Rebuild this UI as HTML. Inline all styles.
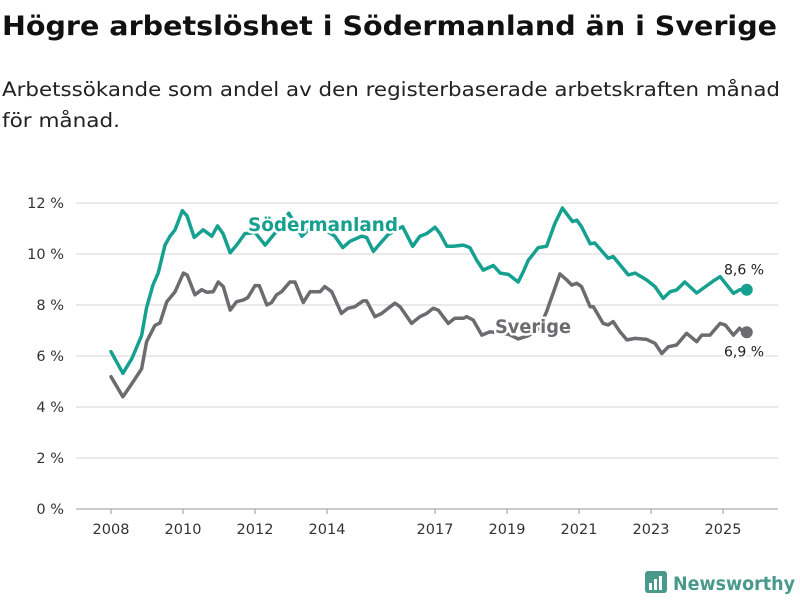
<!DOCTYPE html>
<html><head><meta charset="utf-8"><style>
body{margin:0;background:#fff;}
svg text{font-family:"DejaVu Sans","Liberation Sans",sans-serif;}
</style></head><body>
<svg id="chart" width="800" height="600" viewBox="0 0 800 600" xmlns="http://www.w3.org/2000/svg">
<text x="2" y="35" font-size="27" font-weight="bold" fill="#111" textLength="775" lengthAdjust="spacingAndGlyphs">Högre arbetslöshet i Södermanland än i Sverige</text>
<text x="2" y="96" font-size="19.5" fill="#222" textLength="778" lengthAdjust="spacingAndGlyphs">Arbetssökande som andel av den registerbaserade arbetskraften månad</text>
<text x="2" y="127" font-size="19.5" fill="#222" textLength="118" lengthAdjust="spacingAndGlyphs">för månad.</text>
<g id="grid"></g><g id="xaxis"></g><g id="series"></g><g id="labels"></g>
<g>
<rect x="645" y="571" width="22" height="22" rx="3" fill="#4a9a8c"/>
<rect x="649" y="583" width="3" height="7" fill="#fff"/><rect x="654" y="579" width="3" height="11" fill="#fff"/><rect x="659" y="576" width="3" height="14" fill="#fff"/>
<text x="673" y="590" font-size="19" font-weight="bold" fill="#4a9a8c" textLength="122" lengthAdjust="spacingAndGlyphs">Newsworthy</text>
</g>
</svg>
<script>
const yTicks=[0,2,4,6,8,10,12];
const yTickLabels=["0 %","2 %","4 %","6 %","8 %","10 %","12 %"];
const xTicks=[2008,2010,2012,2014,2017,2019,2021,2023,2025];
const sodDates=[2008.0,2008.33,2008.58,2008.85,2008.99,2009.17,2009.31,2009.5,2009.64,2009.78,2009.98,2010.11,2010.31,2010.56,2010.8,2010.96,2011.11,2011.31,2011.49,2011.72,2012.0,2012.28,2012.6,2012.94,2013.3,2013.67,2014.0,2014.22,2014.44,2014.64,2014.96,2015.1,2015.29,2015.47,2015.69,2015.92,2016.1,2016.38,2016.58,2016.77,2017.0,2017.14,2017.33,2017.51,2017.79,2017.97,2018.16,2018.34,2018.62,2018.81,2019.04,2019.31,2019.45,2019.59,2019.87,2020.1,2020.33,2020.54,2020.82,2020.94,2021.07,2021.31,2021.44,2021.81,2021.95,2022.37,2022.56,2022.88,2023.11,2023.34,2023.53,2023.71,2023.94,2024.27,2024.73,2024.92,2025.29,2025.47,2025.66];
const sodValues=[6.17,5.32,5.9,6.8,7.9,8.8,9.25,10.35,10.7,10.95,11.7,11.5,10.65,10.95,10.7,11.1,10.8,10.05,10.35,10.8,10.85,10.35,10.9,11.6,10.7,11.2,10.9,10.7,10.25,10.5,10.7,10.65,10.1,10.4,10.75,10.95,11.07,10.3,10.7,10.8,11.05,10.8,10.3,10.3,10.35,10.25,9.75,9.37,9.55,9.25,9.2,8.9,9.3,9.75,10.25,10.3,11.2,11.8,11.27,11.33,11.07,10.4,10.43,9.83,9.9,9.18,9.25,8.98,8.72,8.26,8.52,8.59,8.9,8.47,8.94,9.11,8.46,8.6,8.6];
const sweDates=[2008.0,2008.33,2008.62,2008.85,2008.99,2009.22,2009.36,2009.55,2009.78,2010.01,2010.12,2010.33,2010.52,2010.66,2010.84,2010.98,2011.12,2011.31,2011.49,2011.68,2011.8,2012.0,2012.12,2012.33,2012.46,2012.6,2012.74,2012.97,2013.11,2013.34,2013.53,2013.81,2013.94,2014.13,2014.4,2014.58,2014.77,2015.0,2015.1,2015.33,2015.52,2015.7,2015.89,2016.03,2016.35,2016.58,2016.77,2016.95,2017.09,2017.37,2017.55,2017.79,2017.88,2018.06,2018.3,2018.53,2018.8,2019.05,2019.31,2019.6,2019.9,2020.1,2020.47,2020.66,2020.8,2020.94,2021.07,2021.31,2021.4,2021.67,2021.81,2021.95,2022.14,2022.33,2022.56,2022.88,2023.11,2023.3,2023.48,2023.71,2023.99,2024.27,2024.41,2024.64,2024.92,2025.06,2025.29,2025.46,2025.56,2025.66];
const sweValues=[5.19,4.4,5.0,5.5,6.56,7.2,7.3,8.13,8.52,9.25,9.17,8.4,8.6,8.5,8.52,8.9,8.72,7.8,8.13,8.2,8.29,8.76,8.76,8.0,8.1,8.4,8.52,8.9,8.9,8.1,8.52,8.52,8.72,8.52,7.67,7.87,7.93,8.16,8.16,7.54,7.67,7.87,8.07,7.93,7.28,7.54,7.67,7.87,7.8,7.28,7.48,7.48,7.54,7.41,6.82,6.95,6.9,6.85,6.67,6.8,7.1,7.74,9.22,8.98,8.78,8.85,8.72,7.93,7.93,7.28,7.22,7.35,6.95,6.63,6.69,6.65,6.5,6.1,6.36,6.43,6.89,6.56,6.82,6.82,7.28,7.22,6.82,7.09,6.95,6.93];
const NS="http://www.w3.org/2000/svg";
const X=y=>111+(y-2008)*36;
const Y=v=>509-v*25.5;
function mk(tag,attrs,parent){const e=document.createElementNS(NS,tag);for(const k in attrs)e.setAttribute(k,attrs[k]);document.getElementById(parent).appendChild(e);return e;}
yTicks.forEach((t,i)=>{
 const l=mk('line',{x1:76,x2:778,y1:Y(t),y2:Y(t),stroke:t===0?'#bbb':'#ddd','stroke-width':t===0?1.5:1.3},'grid');
 
 
 const tx=mk('text',{x:64,y:Y(t)+5,'text-anchor':'end','font-size':14.5,fill:'#333'},'grid');
 tx.textContent=yTickLabels[i];
 
 
});
xTicks.forEach(t=>{
 const l=mk('line',{x1:X(t),x2:X(t),y1:509,y2:514,stroke:'#999','stroke-width':1},'xaxis');
 
 
 const tx=mk('text',{x:X(t),y:534,'text-anchor':'middle','font-size':14.5,fill:'#333'},'xaxis');
 tx.textContent=t;
 
 
});
function line(d,v,color,name){
 const p=mk('path',{d:d.map((t,i)=>(i?'L':'M')+X(t).toFixed(1)+','+Y(v[i]).toFixed(1)).join(''),fill:'none',stroke:color,'stroke-width':3.5,'stroke-linejoin':'round','stroke-linecap':'round'},'series');
 
 
 const n=d.length-1;
 const c=mk('circle',{cx:X(d[n]),cy:Y(v[n]),r:6,fill:color},'series');
 
 
}
line(sweDates,sweValues,'#6c6b70','sverige');
line(sodDates,sodValues,'#16a090','sodermanland');
function lab(x,y,txt,size,w,color,name,len){
 const a={x:x,y:y,'font-size':size,'font-weight':w,fill:color,stroke:'#fff','stroke-width':5,'paint-order':'stroke','stroke-linejoin':'round'};
 if(len){a.textLength=len;a.lengthAdjust='spacingAndGlyphs';}
 const t=mk('text',a,'labels');
 t.textContent=txt;
 
 
}
lab(248,231,'Södermanland',19,'bold','#16a090','sodermanland-label',150);
lab(495,333,'Sverige',19,'bold','#6c6b70','sverige-label',76);
const ns=sodValues.length-1, nw=sweValues.length-1;
lab(724,Y(sodValues[ns])-15,String(sodValues[ns]).replace('.',',')+' %',14,'normal','#222','sodermanland-value-label');
lab(724,Y(sweValues[nw])+24,String(sweValues[nw].toFixed(1)).replace('.',',')+' %',14,'normal','#222','sverige-value-label');
</script>
</body></html>
